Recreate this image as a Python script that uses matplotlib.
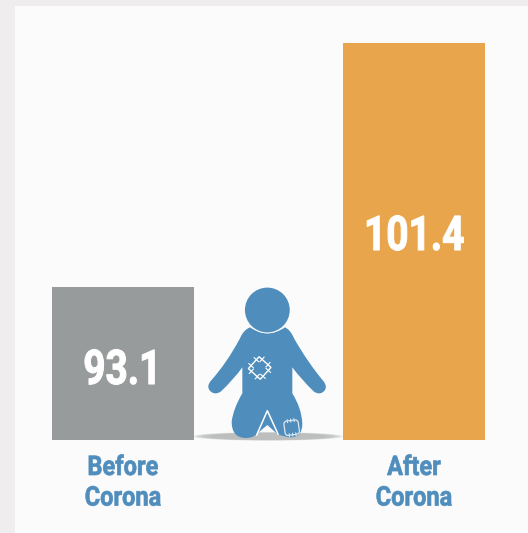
"""Before/after corona bar comparison with a kneeling figure between the bars."""

import matplotlib
matplotlib.use("Agg")
import matplotlib.pyplot as plt
from matplotlib.patches import Circle, Ellipse, FancyBboxPatch, PathPatch, Rectangle
from matplotlib.path import Path
from matplotlib.patheffects import AbstractPathEffect
from matplotlib.transforms import Affine2D, blended_transform_factory

CATEGORIES = ["Before\nCorona", "After\nCorona"]
VALUES = [93.1, 101.4]
BAR_COLORS = ["#989B9B", "#E8A54B"]
VALUE_LABELS = ["93.1", "101.4"]

W, H = 528, 533
BLUE = "#4F8DBD"
PANEL = "#FBFBFB"
PAGE = "#EFEDED"
FONT = ["Roboto", "DejaVu Sans"]


class Condensed(AbstractPathEffect):
    """Squeeze text horizontally about its own centre (no condensed font here)."""

    def __init__(self, factor, weight=0.0):
        super().__init__()
        self.factor = factor
        self.weight = weight

    def draw_path(self, renderer, gc, tpath, affine, rgbFace=None):
        box = tpath.get_extents()
        mid = (box.x0 + box.x1) / 2
        squeeze = Affine2D().translate(-mid, 0).scale(self.factor, 1).translate(mid, 0)
        gc0 = renderer.new_gc()
        gc0.copy_properties(gc)
        gc0.set_foreground(rgbFace)
        gc0.set_linewidth(self.weight)
        renderer.draw_path(gc0, tpath, squeeze + affine, rgbFace)
        gc0.restore()


def z(x, y):
    """Illustration coordinates (measured on a 3x crop) to figure pixels."""
    return 190 + x / 3, 280 + y / 3


def body_path():
    M, L, C = Path.MOVETO, Path.LINETO, Path.CURVE3
    pts = [
        (M, 180, 142),
        (C, 160, 150), (C, 150, 175),
        (C, 110, 250), (C, 62, 303),
        (C, 50, 318), (C, 58, 330),
        (C, 72, 348), (C, 92, 335),
        (C, 130, 300), (C, 157, 262),
        (L, 157, 340),
        (C, 130, 385), (C, 125, 425),
        (C, 125, 474), (C, 168, 474),
        (C, 190, 474), (C, 200, 462),
        (L, 232, 435), (L, 262, 462),
        (C, 285, 472), (C, 305, 472),
        (C, 338, 470), (C, 337, 430),
        (C, 335, 385), (C, 307, 340),
        (L, 307, 262),
        (C, 335, 300), (C, 372, 335),
        (C, 392, 348), (C, 405, 330),
        (C, 412, 318), (C, 400, 303),
        (C, 355, 250), (C, 312, 175),
        (C, 302, 150), (C, 285, 142),
        (C, 232, 178), (C, 180, 142),
    ]
    return Path([z(x, y) for _, x, y in pts], [c for c, _, _ in pts])


def draw_figure(ax):
    # shadow, soft at the ends
    for w, h, a in [(150, 8.5, 0.3), (144, 8, 0.45), (134, 7.4, 0.7), (118, 7, 1.0)]:
        ax.add_patch(Ellipse((268, 436.4), w, h, color="#BDBFBE", alpha=a, lw=0, zorder=2))

    ax.add_patch(PathPatch(body_path(), fc=BLUE, ec="none", zorder=3))

    # head
    cx, cy = z(232, 90)
    ax.add_patch(Circle((cx, cy), 23.4, fc=PANEL, ec="none", zorder=4))
    ax.add_patch(Circle((cx, cy), 22.4, fc=BLUE, ec="none", zorder=5))

    # white inverted V between the legs
    ax.plot(*zip(z(200, 465), z(232, 392), z(264, 462)), color="white", lw=1.1, zorder=5)

    # chest patch with stitches
    cx, cy = z(209, 264)
    rot = Affine2D().rotate_deg(42).translate(cx, cy) + ax.transData
    s = 8.0
    ax.add_patch(Rectangle((-s, -s), 2 * s, 2 * s, fc="none", ec="white", lw=1.0,
                           transform=rot, zorder=6))
    for t in (-s * 0.5, s * 0.5):
        for a, b in [((t, -s - 3), (t, -s + 3)), ((t, s - 3), (t, s + 3)),
                     ((-s - 3, t), (-s + 3, t)), ((s - 3, t), (s + 3, t))]:
            ax.plot(*zip(a, b), color="white", lw=0.8, transform=rot, zorder=6)

    # knee patch
    cx, cy = z(305, 443)
    rot = Affine2D().rotate_deg(-8).translate(cx, cy) + ax.transData
    s = 5.6
    ax.add_patch(FancyBboxPatch((-s, -s), 2 * s, 2 * s, boxstyle="round,pad=1.6,rounding_size=3",
                                fc="none", ec="#DDE8F1", lw=0.9, transform=rot, zorder=6))
    for t in (-s * 0.6, 0, s * 0.6):
        ax.plot([t, t], [-s - 3, -s], color="#DDE8F1", lw=0.7, transform=rot, zorder=6)
        ax.plot([t, t], [s, s + 3], color="#DDE8F1", lw=0.7, transform=rot, zorder=6)


fig = plt.figure(figsize=(W / 100, H / 100), dpi=100, facecolor=PAGE)

# page furniture and illustration live in a pixel-sized axes
bg = fig.add_axes([0, 0, 1, 1])
bg.set_xlim(0, W)
bg.set_ylim(H, 0)
bg.axis("off")
bg.add_patch(Rectangle((15, 6), W - 15, H - 6, fc=PANEL, ec="none", zorder=1))
draw_figure(bg)

# bars: plot area spans bar tops/bottoms in pixels, truncated value axis
left, right, top, bottom = 52, 485, 43, 440
ax = fig.add_axes([left / W, 1 - bottom / H, (right - left) / W, (bottom - top) / H])
ax.patch.set_visible(False)
ax.axis("off")
per_px = (VALUES[1] - VALUES[0]) / (287 - 43)
ax.set_ylim(VALUES[0] - (440 - 287) * per_px, VALUES[1])
ax.set_xlim(-71 / 291, 1 + 71 / 291)
xs = [0, 1]
ax.bar(xs, VALUES, width=142 / 291, color=BAR_COLORS, lw=0)

# x from the bar axes, y in figure pixels
text_tr = blended_transform_factory(ax.transData, bg.transData)
value_baselines = [384, 250]
for x, lab, base in zip(xs, VALUE_LABELS, value_baselines):
    ax.text(x, base, lab, transform=text_tr, color="white", fontsize=34.5, fontweight="bold",
            family=FONT, ha="center", va="baseline", path_effects=[Condensed(0.81, 0.8)])

for x, cat in zip(xs, CATEGORIES):
    ax.text(x, 454, cat, transform=text_tr, color=BLUE, fontsize=19.5, fontweight="bold",
            family=FONT, ha="center", va="top", linespacing=1.17, clip_on=False,
            path_effects=[Condensed(0.87, 0.5)])

fig.savefig("out.png", dpi=100, facecolor=fig.get_facecolor())
